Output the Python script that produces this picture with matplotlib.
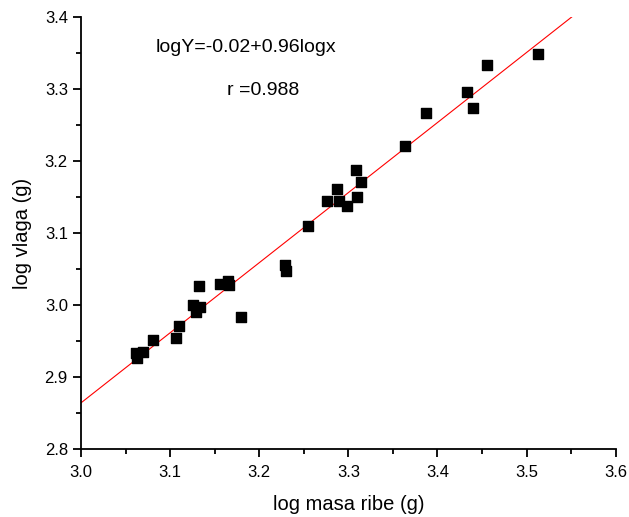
import numpy as np
import matplotlib
matplotlib.use('Agg')
import matplotlib.pyplot as plt
from matplotlib.ticker import MultipleLocator

plt.rcParams['font.family'] = ['Liberation Sans', 'DejaVu Sans']

# log fish mass vs log moisture
log_masa = [3.062, 3.070, 3.063, 3.081, 3.107, 3.110, 3.126, 3.129, 3.132, 3.134,
            3.156, 3.165, 3.166, 3.180, 3.229, 3.230, 3.255, 3.276, 3.287, 3.290,
            3.299, 3.309, 3.310, 3.314, 3.363, 3.387, 3.433, 3.440, 3.455, 3.513]
log_vlaga = [2.933, 2.935, 2.927, 2.951, 2.954, 2.971, 3.000, 2.990, 3.027, 2.997,
             3.029, 3.033, 3.028, 2.984, 3.056, 3.048, 3.110, 3.144, 3.161, 3.144,
             3.138, 3.188, 3.150, 3.171, 3.221, 3.266, 3.296, 3.273, 3.333, 3.348]

x = np.array(log_masa)
y = np.array(log_vlaga)
b, a = np.polyfit(x, y, 1)

fig = plt.figure(figsize=(6.29, 5.17), dpi=100)
ax = fig.add_axes([0.1288, 0.1309, 0.8501, 0.8368])

xl = np.linspace(3.0, 3.6, 50)
ax.plot(xl, a + b * xl, color='red', lw=0.8, zorder=2)
ax.scatter(x, y, marker='s', s=52, color='black', zorder=3)

ax.set_xlim(3.0, 3.6)
ax.set_ylim(2.8, 3.4)
ax.xaxis.set_major_locator(MultipleLocator(0.1))
ax.xaxis.set_minor_locator(MultipleLocator(0.05))
ax.yaxis.set_major_locator(MultipleLocator(0.1))
ax.yaxis.set_minor_locator(MultipleLocator(0.05))
ax.xaxis.set_major_formatter('{x:.1f}')
ax.yaxis.set_major_formatter('{x:.1f}')

ax.spines['top'].set_visible(False)
ax.spines['right'].set_visible(False)
for s in ['left', 'bottom']:
    ax.spines[s].set_linewidth(1.3)
ax.tick_params(which='major', direction='out', length=6, width=1.3, labelsize=12)
ax.tick_params(axis='x', which='major', pad=5)
ax.tick_params(which='minor', direction='out', length=3.5, width=1.3)

ax.set_xlabel('log masa ribe (g)', fontsize=14.5, labelpad=11)
ax.set_ylabel('log vlaga (g)', fontsize=14.5, labelpad=9)

ax.text(3.0842, 3.3506, 'logY=-0.02+0.96logx', fontsize=14, ha='left', va='baseline')
ax.text(3.1639, 3.2914, 'r =0.988', fontsize=14, ha='left', va='baseline')

fig.savefig('out.png', dpi=100)
